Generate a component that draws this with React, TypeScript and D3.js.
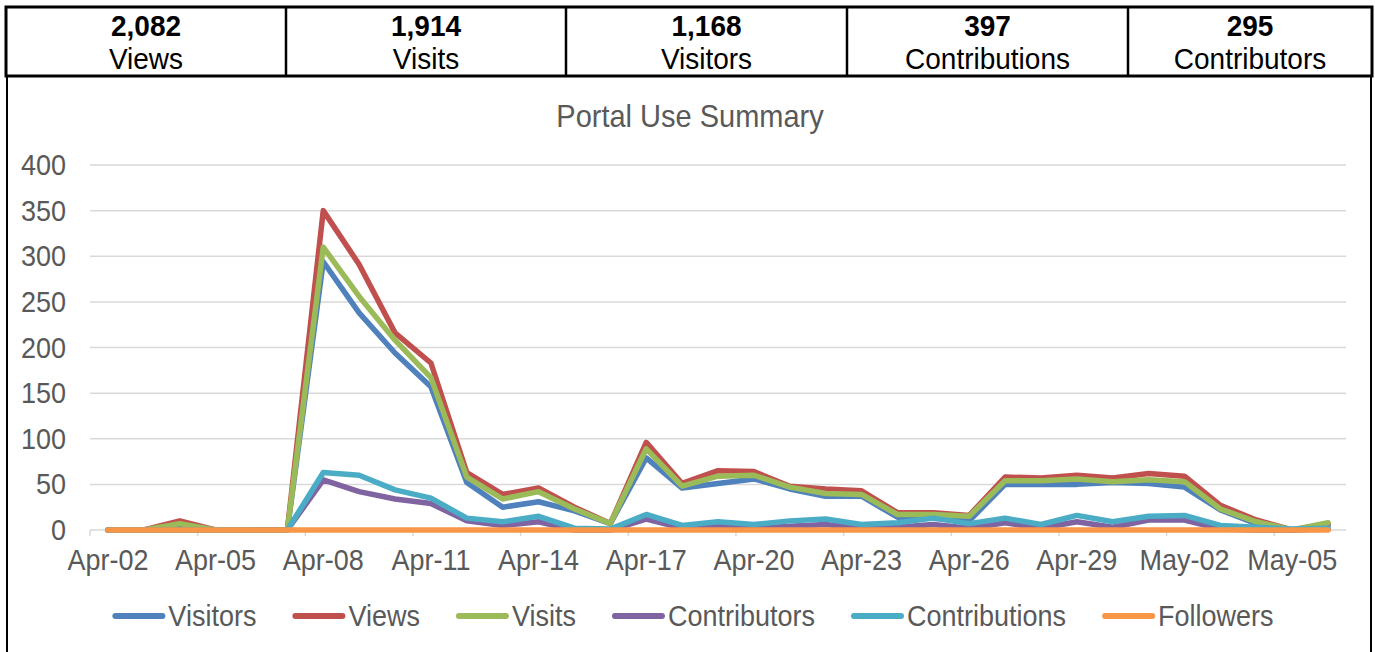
import * as d3 from "d3";
import React, { useMemo } from "react";

// daily figures
const dates = [
	"Apr-02", "Apr-03", "Apr-04", "Apr-05", "Apr-06", "Apr-07", "Apr-08",
	"Apr-09", "Apr-10", "Apr-11", "Apr-12", "Apr-13", "Apr-14", "Apr-15",
	"Apr-16", "Apr-17", "Apr-18", "Apr-19", "Apr-20", "Apr-21", "Apr-22",
	"Apr-23", "Apr-24", "Apr-25", "Apr-26", "Apr-27", "Apr-28", "Apr-29",
	"Apr-30", "May-01", "May-02", "May-03", "May-04", "May-05", "May-06",
];
const visitors = [0, 0, 5, 0, 0, 0, 294, 238, 194, 157, 52, 25, 31, 21, 7, 79, 46, 51, 56, 45, 37, 37, 14, 13, 10, 50, 50, 50, 52, 51, 47, 22, 7, 0, 5];
const views = [0, 0, 10, 0, 0, 0, 350, 291, 216, 183, 63, 39, 46, 25, 7, 96, 51, 65, 64, 48, 45, 43, 19, 19, 16, 58, 57, 60, 57, 62, 59, 27, 11, 0, 7];
const visits = [0, 0, 7, 0, 0, 0, 310, 256, 208, 167, 58, 34, 42, 23, 7, 89, 48, 59, 60, 47, 40, 39, 17, 17, 15, 54, 54, 56, 53, 55, 53, 23, 9, 0, 8];
const contributors = [0, 0, 0, 0, 0, 0, 55, 42, 34, 29, 10, 5, 9, 0, 0, 12, 2, 5, 3, 4, 6, 2, 3, 6, 2, 8, 2, 9, 3, 11, 11, 1, 0, 0, 1];
const contributions = [0, 0, 0, 0, 0, 0, 63, 60, 44, 35, 13, 9, 15, 2, 1, 17, 5, 9, 6, 10, 12, 6, 8, 13, 7, 13, 6, 16, 9, 15, 16, 5, 3, 1, 2];
const followers = [0, 0, 0, 0, 0, 0, 0, 0, 0, 0, 0, 0, 0, 0, 0, 0, 0, 0, 0, 0, 0, 0, 0, 0, 0, 0, 0, 0, 0, 0, 0, 0, 0, 0, 0];

const seriesNames = ["Visitors", "Views", "Visits", "Contributors", "Contributions", "Followers"];
const seriesColors = ["#4F81BD", "#C0504D", "#9BBB59", "#8064A2", "#4BACC6", "#F79646"];
const seriesValues = [visitors, views, visits, contributors, contributions, followers];

const yTicks = [0, 50, 100, 150, 200, 250, 300, 350, 400];

const totalValues = ["2,082", "1,914", "1,168", "397", "295"];
const totalLabels = ["Views", "Visits", "Visitors", "Contributions", "Contributors"];
const totalEdges = [6, 286, 566, 847, 1128, 1372];

const FONT = "'Liberation Sans', Arial, sans-serif";
const GREY = "#595959";

// Excel text here looks a little tall for its width
const Txt: React.FC<{
	x: number;
	y: number;
	size: number;
	anchor?: string;
	bold?: boolean;
	fill?: string;
	sy?: number;
	children: React.ReactNode;
}> = ({ x, y, size, anchor = "middle", bold, fill = GREY, sy = 1.1, children }) => (
	<g transform={`translate(${x},${y}) scale(1,${sy})`}>
		<text
			textAnchor={anchor as any}
			fontFamily={FONT}
			fontSize={size}
			fontWeight={bold ? "bold" : "normal"}
			fill={fill}>
			{children}
		</text>
	</g>
);

const W = 1375;
const H = 652;
const margin = { top: 165, left: 90, right: 29, bottom: 122 };

export default function App() {
	const xScale = useMemo(
		() => d3.scaleBand().domain(dates).range([margin.left, W - margin.right]).padding(0),
		[],
	);
	const yScale = useMemo(
		() => d3.scaleLinear().domain([0, 400]).range([H - margin.bottom, margin.top]),
		[],
	);
	const bw = xScale.bandwidth();

	const line = d3
		.line<number>()
		.x((_, i) => (xScale(dates[i]) || 0) + bw / 2)
		.y((v) => yScale(v));

	// legend: swatch + label, laid out from measured label widths
	const legend = useMemo(() => {
		const ctx = document.createElement("canvas").getContext("2d");
		const size = 27;
		if (ctx) ctx.font = `${size}px ${FONT}`;
		const swatch = 53;
		const gap = 3;
		const spacing = 36;
		const widths = seriesNames.map((n) => (ctx ? ctx.measureText(n).width : n.length * 14));
		const total = widths.reduce((a, w) => a + swatch + gap + w, 0) + spacing * (seriesNames.length - 1);
		let x = 693 - total / 2;
		return seriesNames.map((n, i) => {
			const item = { name: n, color: seriesColors[i], x };
			x += swatch + gap + widths[i] + spacing;
			return item;
		});
	}, []);

	const baseline = yScale(0);

	return (
		<div style={{ position: "absolute", left: 0, top: 0 }}>
			<svg width={W} height={H} style={{ display: "block", background: "#fff" }}>
				{/* totals strip */}
				<rect x={6} y={7} width={1366} height={69} fill="none" stroke="#000" strokeWidth={3} />
				{totalEdges.slice(1, -1).map((x, i) => (
					<line key={i} x1={x} x2={x} y1={7} y2={76} stroke="#000" strokeWidth={2.5} />
				))}
				{totalValues.map((v, i) => {
					const cx = (totalEdges[i] + totalEdges[i + 1]) / 2;
					return (
						<g key={i}>
							<Txt x={cx} y={36} size={28} sy={1.08} bold fill="#000">
								{v}
							</Txt>
							<Txt x={cx} y={69} size={28} sy={1.08} fill="#000">
								{totalLabels[i]}
							</Txt>
						</g>
					);
				})}

				{/* chart frame */}
				<line x1={7} x2={7} y1={76} y2={H} stroke="#000" strokeWidth={2} />
				<line x1={1371} x2={1371} y1={76} y2={H} stroke="#000" strokeWidth={2} />

				<Txt x={690} y={127} size={29}>
					Portal Use Summary
				</Txt>

				{/* gridlines + y labels */}
				{yTicks.map((t) => (
					<g key={t}>
						<line
							x1={margin.left}
							x2={W - margin.right}
							y1={yScale(t)}
							y2={yScale(t)}
							stroke="#d9d9d9"
							strokeWidth={1.5}
						/>
						<Txt x={66} y={yScale(t) + 10} size={27} anchor="end">
							{t}
						</Txt>
					</g>
				))}

				{/* x ticks every third day, labels centred on the day */}
				{dates.map((d, i) =>
					i % 3 === 0 ? (
						<g key={d}>
							<line
								x1={xScale(d) || 0}
								x2={xScale(d) || 0}
								y1={baseline}
								y2={baseline + 6}
								stroke="#d9d9d9"
								strokeWidth={1.5}
							/>
							<Txt x={(xScale(d) || 0) + bw / 2} y={570} size={27}>
								{d}
							</Txt>
						</g>
					) : null,
				)}

				{/* series */}
				{seriesValues.map((vals, i) => (
					<path
						key={seriesNames[i]}
						d={line(vals) || ""}
						fill="none"
						stroke={seriesColors[i]}
						strokeWidth={5.5}
						strokeLinejoin="round"
						strokeLinecap="round"
					/>
				))}

				{/* legend */}
				{legend.map((l) => (
					<g key={l.name}>
						<line
							x1={l.x + 3}
							x2={l.x + 50}
							y1={616}
							y2={616}
							stroke={l.color}
							strokeWidth={6}
							strokeLinecap="round"
						/>
						<Txt x={l.x + 56} y={626} size={27} anchor="start">
							{l.name}
						</Txt>
					</g>
				))}
			</svg>
		</div>
	);
}
